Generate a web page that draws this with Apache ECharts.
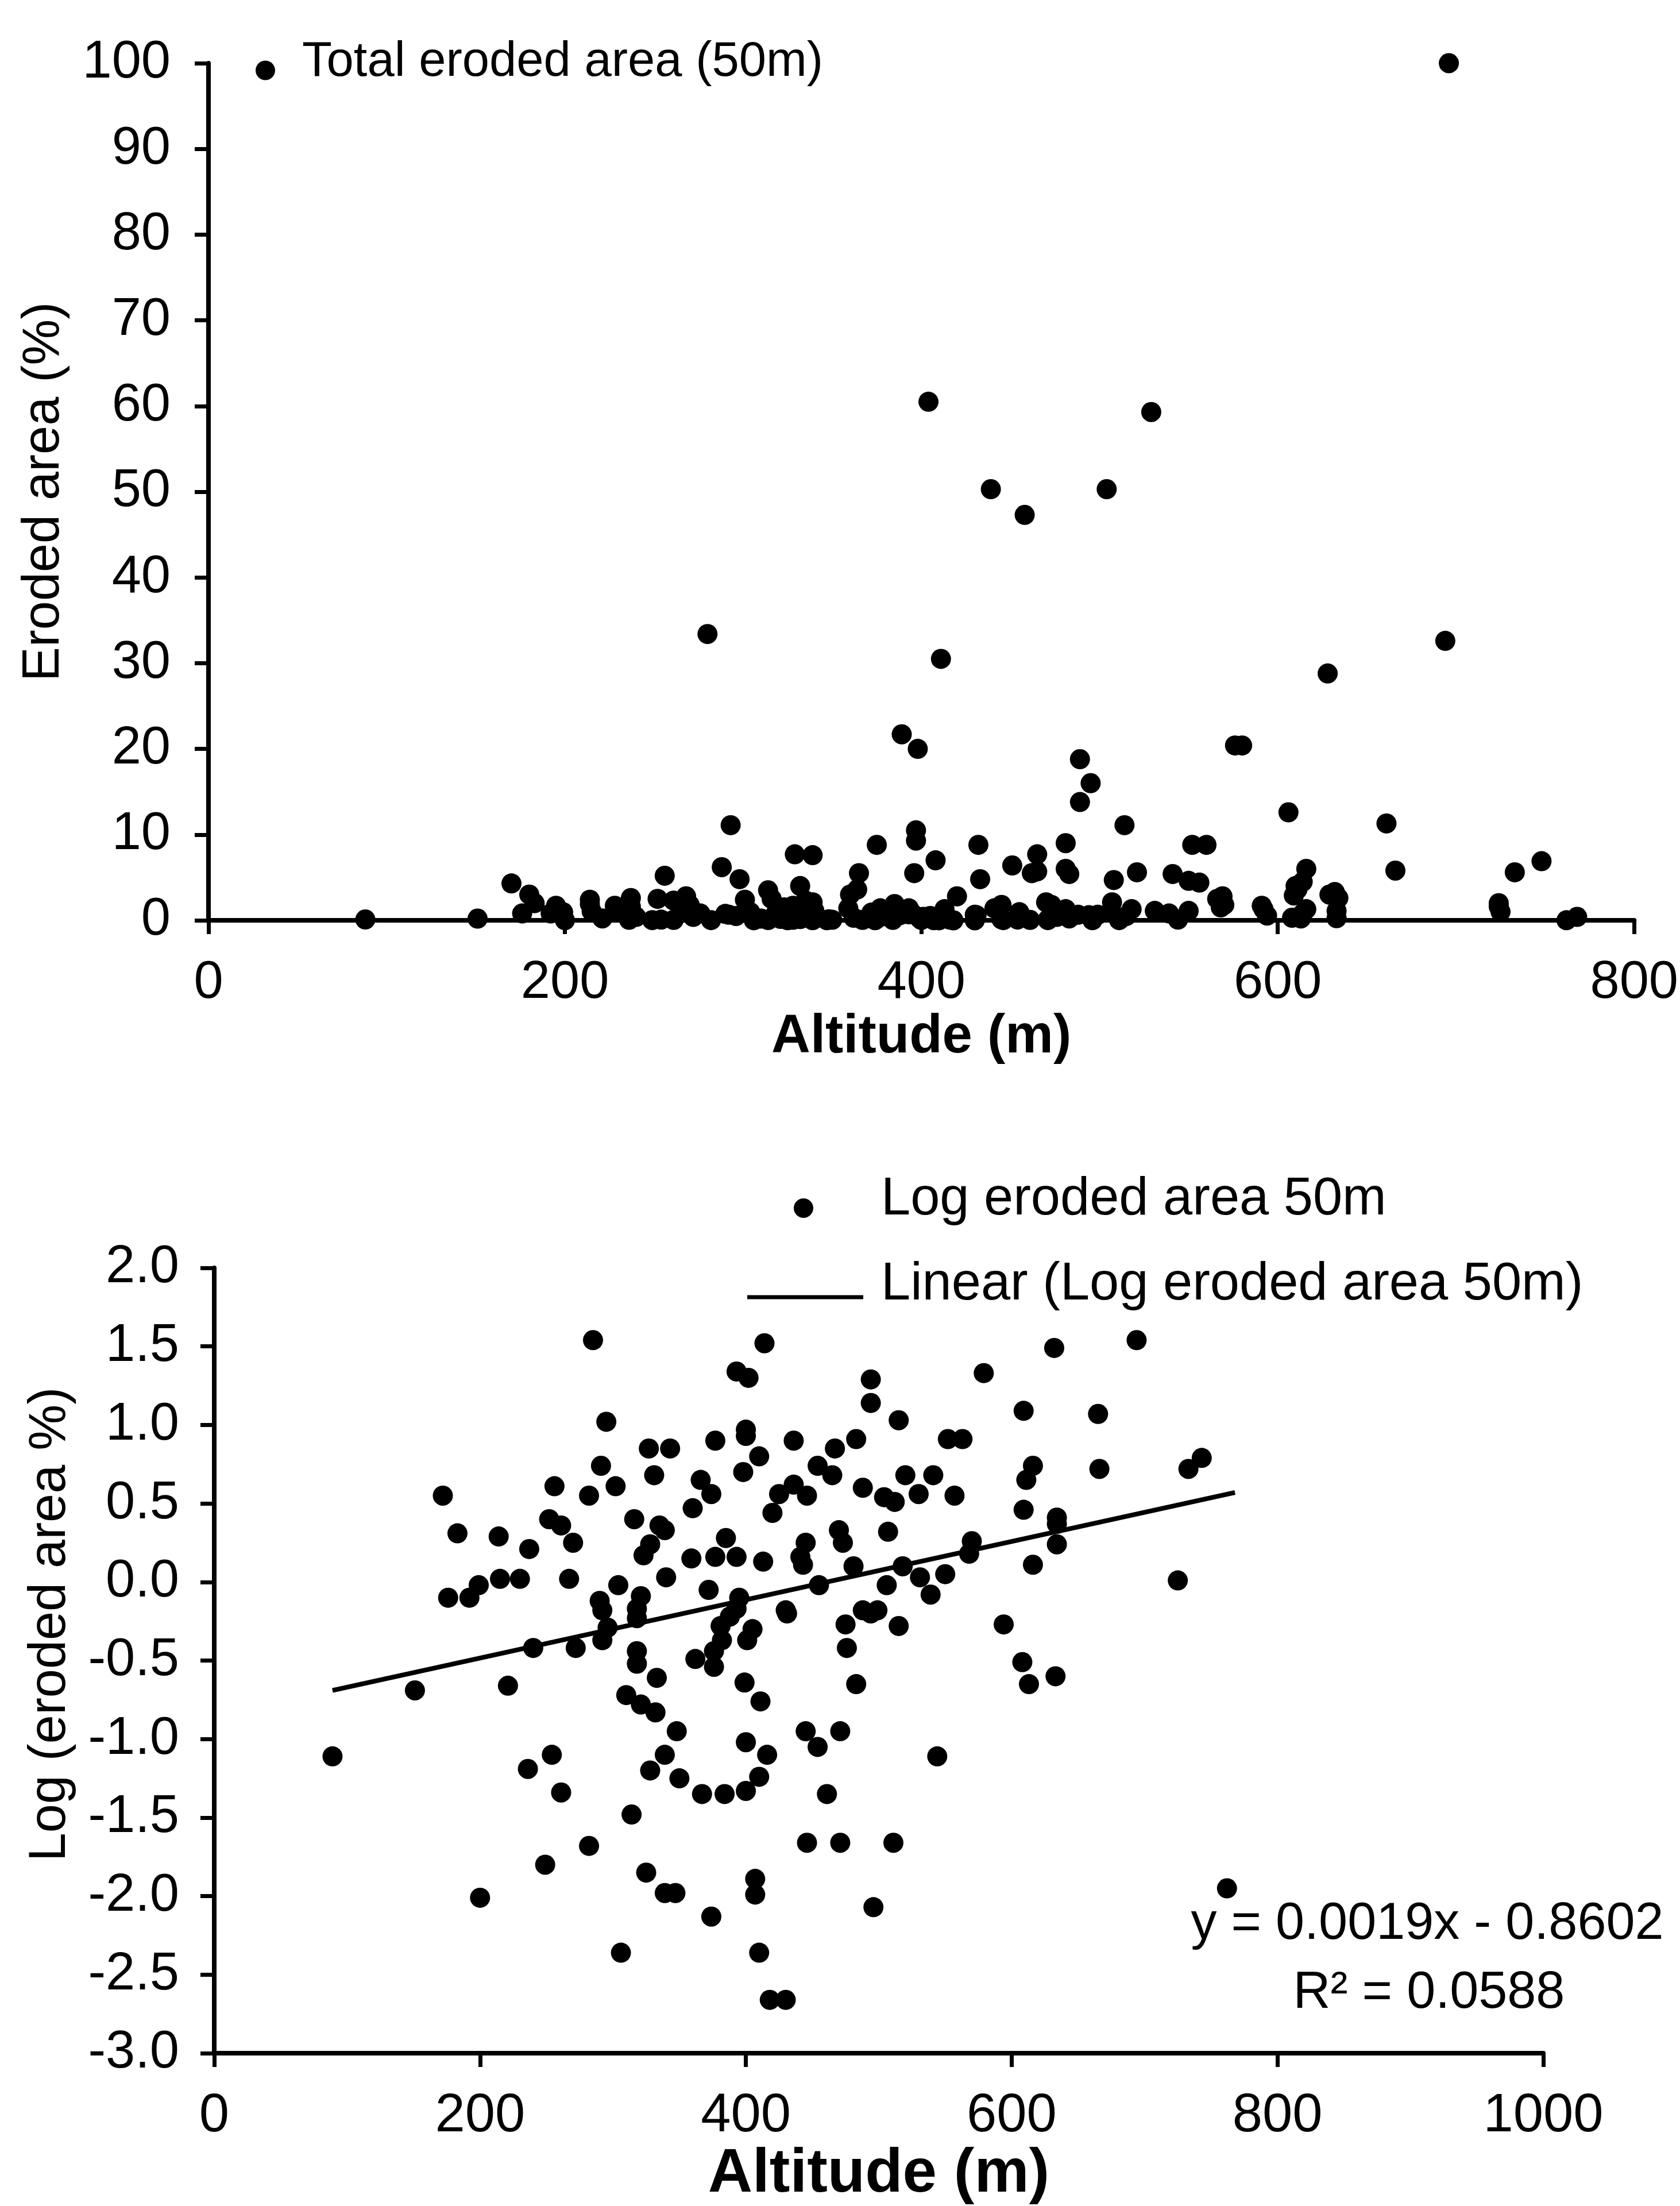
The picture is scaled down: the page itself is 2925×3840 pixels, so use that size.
<!DOCTYPE html>
<html>
<head>
<meta charset="utf-8">
<script src="https://cdn.jsdelivr.net/npm/echarts@6/dist/echarts.min.js"></script>
<style>
html,body{margin:0;padding:0;background:#fff;}
#chart{width:2925px;height:3840px;}
</style>
</head>
<body>
<div id="chart"></div>
<script>
// ---------- DATA ----------
// Top panel: [altitude (m), eroded area (%)]
const totalErodedPoints = [
 [696,100],[404,60.5],[529,59.3],[439,50.3],[504,50.3],[458,47.3],[280,33.4],[694,32.6],[411,30.5],[628,28.8],
 [389,21.7],[398,20.0],[576,20.4],[580,20.4],[489,18.8],[495,16.0],[489,13.8],[606,12.6],[661,11.3],[293,11.1],
 [514,11.1],[397,10.5],[397,9.3],[375,8.8],[432,8.8],[481,9.0],[552,8.8],[560,8.8],[465,7.7],[329,7.7],
 [339,7.6],[408,7.0],[748,6.9],[666,5.8],[733,5.6],[616,6.0],[396,5.5],[288,6.2],[462,5.5],[541,5.4],
 [451,6.4],[521,5.6],[481,6.0],[365,5.5],[256,5.2],[614,4.5],[556,4.4],[611,3.6],[629,3.0],[724,1.6],
 [768,0.4],[633,1.1],[616,1.3],[592,1.3],[566,2.5],[170,4.3],[180,3.0],[195,1.7],[214,2.4],[228,1.7],
 [237,2.6],[268,2.8],[276,0.8],[298,4.8],[301,2.4],[314,3.5],[332,4.0],[364,3.6],[433,4.8],[465,5.7],
 [483,5.4],[508,4.7],[550,4.6],[569,2.8],[591,1.7],[610,4.0],[614,0.8],[632,3.3],[724,2.0],
 [360,3.0],[420,2.8],[609,2.9],[634,2.6],[335,2.3],[316,2.5],[252,2.5],[261,2.3],[339,2.1],[183,2.0],
 [214,1.9],[270,1.8],[385,1.9],[470,2.1],[473,1.8],[507,2.1],[445,1.8],[441,1.4],[570,1.8],[568,1.5],
 [328,1.7],[323,1.5],[237,1.6],[413,1.3],[359,1.4],[377,1.4],[393,1.4],[481,1.3],[518,1.3],[531,1.1],
 [550,1.1],[340,1.1],[443,1.3],[725,1.0],[199,0.95],[215,1.05],[230,1.05],[267,1.05],[304,0.95],[372,0.9],
 [455,0.95],[506,0.95],[539,0.8],[176,0.8],[192,0.8],[290,0.75],[292,0.65],[321,0.8],[318,0.7],[430,0.65],
 [488,0.65],[499,0.65],[494,0.6],[475,0.55],[515,0.5],[594,0.55],[476,0.4],[483,0.22],[608,0.3],[613,0.22],
 [633,0.25],[395,0.8],[393,0.7],[388,0.6],[381,0.5],[401,0.4],[382,0.4],[376,0.35],[376,0.3],[362,0.3],
 [399,0.23],[411,0.18],[405,0.5],[296,0.5],[318,0.6],[240,0.4],[272,0.4],[318,0.35],[333,0.25],[151,0.2],
 [221,0.22],[88,0.1],[310,0.2],[321,0.17],[332,0.15],[348,0.11],[339,0.08],[328,0.06],[350,0.06],[367,0.05],
 [384,0.05],[400,0.05],[410,0.06],[400,0.1],[416,0.08],[431,0.6],[471,0.11],[445,0.11],[454,0.09],[461,0.05],
 [446,0.02],[471,0.02],[511,0.02],[254,0.08],[236,0.06],[261,0.05],[314,0.03],[282,0.02],[249,0.02],[325,0.01],
 [339,0.01],[347,0.01],[200,0.01],[374,0.01],[407,0.01],[306,0.004],[410,0.004],[418,0.002],[430,0.002],[496,0.01],
 [544,0.08],[762,0.01]
];

// Bottom panel: [altitude (m), log eroded area %]
const logErodedPoints = [
 [285,1.54],[414,1.52],[632,1.49],[694,1.54],[393,1.34],[402,1.30],[579,1.33],[494,1.29],[494,1.14],[515,1.03],
 [609,1.09],[665,1.07],[295,1.02],[400,0.97],[400,0.93],[552,0.91],[563,0.91],[377,0.90],[436,0.90],[483,0.91],
 [327,0.85],[343,0.85],[467,0.85],[616,0.74],[611,0.65],[666,0.72],[743,0.79],[733,0.72],[410,0.80],[398,0.70],
 [291,0.74],[331,0.68],[454,0.74],[465,0.68],[488,0.60],[520,0.68],[541,0.68],[366,0.65],[374,0.56],[256,0.61],
 [302,0.61],[436,0.62],[446,0.55],[425,0.56],[172,0.55],[282,0.55],[504,0.54],[512,0.51],[530,0.56],[557,0.55],
 [360,0.47],[420,0.44],[609,0.46],[634,0.41],[634,0.37],[335,0.36],[316,0.40],[252,0.40],[261,0.36],[339,0.33],
 [183,0.31],[214,0.29],[270,0.25],[385,0.28],[470,0.33],[473,0.25],[507,0.32],[634,0.24],[445,0.25],[441,0.16],
 [570,0.26],[568,0.18],[328,0.24],[323,0.17],[237,0.21],[413,0.13],[359,0.15],[377,0.16],[393,0.16],[616,0.11],
 [725,0.01],[481,0.10],[518,0.10],[531,0.03],[550,0.05],[340,0.03],[443,0.11],[199,-0.02],[215,0.02],[230,0.02],
 [267,0.02],[304,-0.02],[372,-0.05],[455,-0.02],[506,-0.02],[539,-0.08],[176,-0.10],[192,-0.10],[290,-0.12],[292,-0.18],
 [321,-0.09],[318,-0.17],[430,-0.18],[488,-0.18],[499,-0.18],[494,-0.20],[475,-0.27],[515,-0.28],[594,-0.27],[476,-0.42],
 [483,-0.65],[608,-0.51],[613,-0.65],[633,-0.60],[395,-0.10],[393,-0.17],[388,-0.22],[405,-0.30],[381,-0.28],[401,-0.37],
 [382,-0.37],[376,-0.44],[376,-0.54],[362,-0.49],[399,-0.64],[411,-0.76],[296,-0.29],[292,-0.37],[318,-0.23],[240,-0.42],
 [272,-0.42],[318,-0.44],[318,-0.52],[333,-0.61],[151,-0.69],[221,-0.66],[89,-1.11],[310,-0.72],[321,-0.78],[332,-0.83],
 [348,-0.95],[339,-1.10],[328,-1.20],[350,-1.25],[367,-1.35],[384,-1.35],[400,-1.33],[410,-1.24],[400,-1.02],[416,-1.10],
 [431,-0.20],[471,-0.95],[445,-0.95],[454,-1.05],[461,-1.35],[446,-1.66],[471,-1.66],[511,-1.66],[254,-1.10],[236,-1.19],
 [261,-1.34],[314,-1.48],[282,-1.68],[249,-1.80],[325,-1.85],[339,-1.98],[347,-1.98],[200,-2.01],[374,-2.13],[407,-1.89],
 [407,-1.99],[306,-2.36],[410,-2.36],[418,-2.66],[430,-2.66],[496,-2.07],[544,-1.11],[762,-1.95]
];

// Linear trend line end points (as drawn)
const trendLinePoints = [[89,-0.69],[768,0.57]];

// Axis ranges / ticks
const topXAxisRange = {min:0, max:800, interval:200};
const topYAxisRange = {min:0, max:100, interval:10};
const bottomXAxisRange = {min:0, max:1000, interval:200};
const bottomYAxisRange = {min:-3, max:2, interval:0.5};

// Text
const seriesNames = ['Total eroded area (50m)','Log eroded area 50m','Linear (Log eroded area 50m)'];
const axisTitles = {x:'Altitude (m)', yTop:'Eroded area (%)', yBottom:'Log (eroded area %)'};
const equationLines = ['y = 0.0019x - 0.8602','R\u00b2 = 0.0588'];

// ---------- CHART ----------
const FONT = '"Liberation Sans", Arial, Helvetica, sans-serif';
const BLACK = '#000';
// legend icons: dot sitting in lower half of a 34x68 box; line near lower part of a 202x63 box
const DOT_ICON = 'path://M0,0 M0,68 M0,48 A17,17 0 1 1 34,48 A17,17 0 1 1 0,48 Z';
const LINE_ICON = 'path://M0,0 M0,63 M0,49 L202,49 L202,56 L0,56 Z';

function axisBase(fs){
  return {
    type:'value',
    axisLine:{show:true,onZero:false,lineStyle:{color:BLACK,width:8}},
    axisTick:{show:true,length:24,lineStyle:{color:BLACK,width:7}},
    splitLine:{show:false},
    axisLabel:{color:BLACK,fontSize:fs,fontFamily:FONT,formatter:v => String(v)}
  };
}

const chart = echarts.init(document.getElementById('chart'), null, {renderer:'canvas'});

const xTop = axisBase(92);
Object.assign(xTop, topXAxisRange, {gridIndex:0, name:axisTitles.x, nameLocation:'middle', nameGap:155,
  nameTextStyle:{color:BLACK,fontSize:94,fontWeight:'bold',fontFamily:FONT}});
xTop.axisLabel.margin = 64;

const yTop = axisBase(92);
Object.assign(yTop, topYAxisRange, {gridIndex:0, name:axisTitles.yTop, nameLocation:'middle', nameGap:241,
  nameTextStyle:{color:BLACK,fontSize:90,fontFamily:FONT}});
yTop.axisLabel.margin = 66;
yTop.axisLabel.padding = [0,0,50,0];

const xBot = axisBase(94);
Object.assign(xBot, bottomXAxisRange, {gridIndex:1, name:axisTitles.x, nameLocation:'middle', nameGap:148,
  nameTextStyle:{color:BLACK,fontSize:107,fontWeight:'bold',fontFamily:FONT}});
xBot.axisLabel.margin = 63;

const yBot = axisBase(92);
Object.assign(yBot, bottomYAxisRange, {gridIndex:1, name:axisTitles.yBottom, nameLocation:'middle', nameGap:240,
  nameTextStyle:{color:BLACK,fontSize:90,fontFamily:FONT,padding:[0,0,0,126]}});
yBot.axisLabel.margin = 61;
yBot.axisLabel.padding = [0,0,50,0];
yBot.axisLabel.formatter = v => v.toFixed(1);

const option = {
  animation:false,
  backgroundColor:'#fff',
  textStyle:{fontFamily:FONT},
  grid:[
    {left:363, top:110, width:2487, height:1492, containLabel:false},
    {left:373, top:2207, width:2314, height:1396, containLabel:false}
  ],
  xAxis:[xTop, xBot],
  yAxis:[yTop, yBot],
  legend:[
    {data:[seriesNames[0]], left:445, top:66, padding:0, itemWidth:34, itemHeight:68, icon:DOT_ICON,
     selectedMode:false, itemStyle:{color:BLACK,borderWidth:0},
     textStyle:{color:BLACK,fontSize:85,fontFamily:FONT,padding:[0,0,0,42]}},
    {data:[seriesNames[1]], left:1382, top:2043, padding:0, itemWidth:34, itemHeight:68, icon:DOT_ICON,
     selectedMode:false, itemStyle:{color:BLACK,borderWidth:0},
     textStyle:{color:BLACK,fontSize:92,fontFamily:FONT,padding:[0,0,0,113]}},
    {data:[seriesNames[2]], left:1301, top:2191, padding:0, itemWidth:202, itemHeight:63, icon:LINE_ICON,
     selectedMode:false, itemStyle:{color:BLACK,borderWidth:0},
     textStyle:{color:BLACK,fontSize:92,fontFamily:FONT,padding:[0,0,0,26]}}
  ],
  series:[
    {name:seriesNames[0], type:'scatter', xAxisIndex:0, yAxisIndex:0, data:totalErodedPoints,
     symbol:'circle', symbolSize:35, itemStyle:{color:BLACK,opacity:1}},
    {name:seriesNames[1], type:'scatter', xAxisIndex:1, yAxisIndex:1, data:logErodedPoints,
     symbol:'circle', symbolSize:35, itemStyle:{color:BLACK,opacity:1}},
    {name:seriesNames[2], type:'line', xAxisIndex:1, yAxisIndex:1, data:trendLinePoints,
     symbol:'none', showSymbol:false, lineStyle:{color:BLACK,width:8}, itemStyle:{color:BLACK}, z:3}
  ],
  graphic:[
    {type:'text', x:2485, y:3350, z:10,
     style:{text:equationLines[0], fill:BLACK, fontSize:90, fontFamily:FONT, align:'center', verticalAlign:'middle'}},
    {type:'text', x:2488, y:3470, z:10,
     style:{text:equationLines[1], fill:BLACK, fontSize:90, fontFamily:FONT, align:'center', verticalAlign:'middle'}}
  ]
};
chart.setOption(option);
</script>
</body>
</html>
